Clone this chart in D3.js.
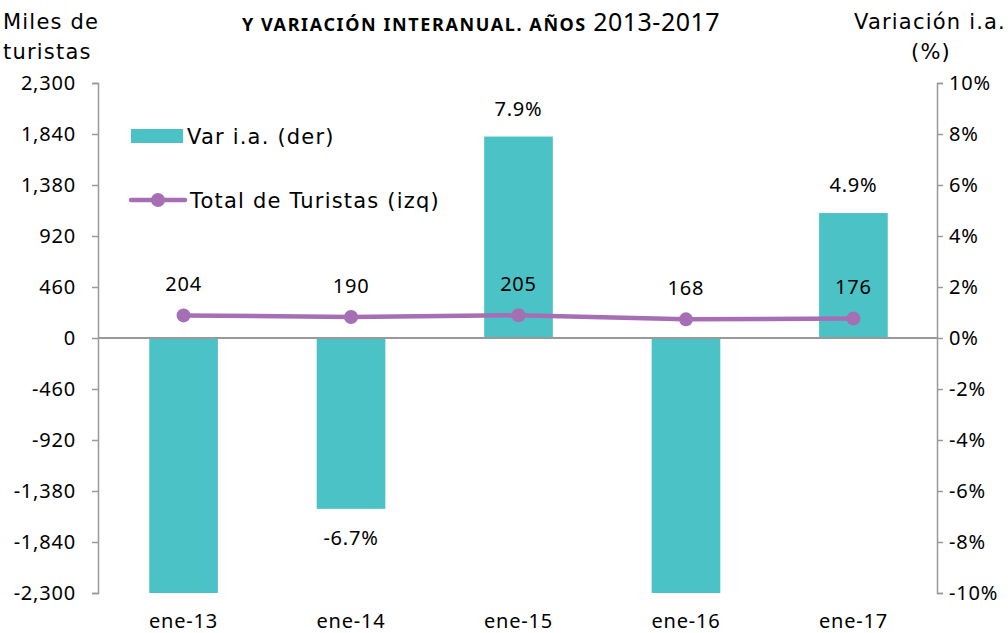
<!DOCTYPE html>
<head>
    <meta charset="utf-8">
    <style>
        body { margin: 0; padding: 0; background: #fff; }
        text { font-family: "Noto Sans", sans-serif; fill: #000; }
        .axis path, .axis line { stroke: #999; stroke-width: 1.5; }
        .axis text { font-size: 20px; letter-spacing: 0.8px; }
        .round { font-family: "DejaVu Sans", sans-serif; font-size: 21px; letter-spacing: 1.2px; }
    </style>
    <script src="https://d3js.org/d3.v7.min.js"></script>
</head>
<body>
    <svg width="1008" height="633"></svg>
    <script>
        // data
        var categories = ["ene-13", "ene-14", "ene-15", "ene-16", "ene-17"];
        var variacion = [-12.0, -6.7, 7.9, -11.0, 4.9];      // % (der)
        var turistas = [204, 190, 205, 168, 176];            // miles (izq)
        var leftTicks = [2300, 1840, 1380, 920, 460, 0, -460, -920, -1380, -1840, -2300];
        var rightTicks = [10, 8, 6, 4, 2, 0, -2, -4, -6, -8, -10];

        var svg = d3.select("svg");
        var mLeft = 98, mRight = 937, mTop = 83, mBottom = 593;

        var x = d3.scaleBand().domain(categories).range([mLeft + 1, mRight + 1]).paddingInner(0.59).paddingOuter(0.3);
        var yL = d3.scaleLinear().domain([-2300, 2300]).range([mBottom, mTop]);
        var yR = d3.scaleLinear().domain([-10, 10]).range([mBottom, mTop]).clamp(true);
        var cx = function (i) { return x(categories[i]) + x.bandwidth() / 2; };

        // bars
        svg.append("g").selectAll("rect")
            .data(variacion)
            .enter().append("rect")
                .attr("x", function (d, i) { return x(categories[i]); })
                .attr("width", x.bandwidth())
                .attr("y", function (d) { return Math.min(yR(d), yR(0)); })
                .attr("height", function (d) { return Math.abs(yR(d) - yR(0)); })
                .attr("fill", "#4BC3C6");

        // zero line
        svg.append("line")
            .attr("x1", mLeft).attr("x2", mRight)
            .attr("y1", yL(0)).attr("y2", yL(0))
            .attr("stroke", "#999").attr("stroke-width", 2);

        // axes
        var fmt = d3.formatLocale({ decimal: ".", thousands: ",", grouping: [3], currency: ["", ""], minus: "-" }).format(",");
        var gl = svg.append("g").attr("class", "axis")
            .attr("transform", "translate(" + mLeft + ",0)")
            .call(d3.axisLeft(yL).tickValues(leftTicks).tickFormat(fmt).tickSize(6).tickSizeOuter(6).tickPadding(16));
        gl.select(".domain").attr("fill", "none");
        var gr = svg.append("g").attr("class", "axis")
            .attr("transform", "translate(" + mRight + ",0)")
            .call(d3.axisRight(yR).tickValues(rightTicks).tickFormat(function (d) { return d + "%"; }).tickSize(6).tickSizeOuter(6).tickPadding(6));
        gr.select(".domain").attr("fill", "none");
        svg.selectAll(".axis text").attr("font-size", null).attr("font-family", null);

        // category labels
        svg.append("g").selectAll("text")
            .data(categories)
            .enter().append("text")
                .attr("x", function (d, i) { return cx(i); })
                .attr("y", 628)
                .attr("text-anchor", "middle")
                .attr("font-size", 20)
                .attr("letter-spacing", 0.8)
                .text(function (d) { return d; });

        // bar labels (only for bars within the axis range)
        svg.append("g").selectAll("text")
            .data(variacion)
            .enter().append("text")
                .attr("display", function (d) { return d >= -10 && d <= 10 ? null : "none"; })
                .attr("x", function (d, i) { return cx(i); })
                .attr("y", function (d) { return d >= 0 ? yR(d) - 21 : yR(d) + 36; })
                .attr("text-anchor", "middle")
                .attr("font-size", 20)
                .attr("letter-spacing", 0.8)
                .text(function (d) { return d.toFixed(1) + "%"; });

        // line
        var line = d3.line()
            .x(function (d, i) { return cx(i); })
            .y(function (d) { return yL(d); });
        svg.append("path")
            .datum(turistas)
            .attr("d", line)
            .attr("fill", "none")
            .attr("stroke", "#A66FB5")
            .attr("stroke-width", 4.5);
        svg.append("g").selectAll("circle")
            .data(turistas)
            .enter().append("circle")
                .attr("cx", function (d, i) { return cx(i); })
                .attr("cy", function (d) { return yL(d); })
                .attr("r", 7)
                .attr("fill", "#A66FB5");
        svg.append("g").selectAll("text")
            .data(turistas)
            .enter().append("text")
                .attr("x", function (d, i) { return cx(i); })
                .attr("y", function (d) { return yL(d) - 24; })
                .attr("text-anchor", "middle")
                .attr("font-size", 20)
                .attr("letter-spacing", 0.8)
                .text(function (d) { return d; });

        // legend
        svg.append("rect").attr("x", 131).attr("y", 129).attr("width", 52).attr("height", 14).attr("fill", "#4BC3C6");
        svg.append("text").attr("class", "round").attr("x", 187).attr("y", 144).text("Var i.a. (der)");
        svg.append("line").attr("x1", 131).attr("x2", 185).attr("y1", 200).attr("y2", 200)
            .attr("stroke", "#A66FB5").attr("stroke-width", 4.5).attr("stroke-linecap", "round");
        svg.append("circle").attr("cx", 158).attr("cy", 200).attr("r", 7).attr("fill", "#A66FB5");
        svg.append("text").attr("class", "round").attr("x", 190).attr("y", 208).text("Total de Turistas (izq)");

        // titles
        var t = svg.append("text").attr("x", 481).attr("y", 31).attr("text-anchor", "middle");
        t.append("tspan").attr("font-size", 18).attr("font-weight", "bold").attr("letter-spacing", 1.6).text("Y VARIACIÓN INTERANUAL. AÑOS ");
        t.append("tspan").attr("font-size", 25).attr("letter-spacing", 0.5).text("2013-2017");

        svg.append("text").attr("class", "round").attr("x", 3).attr("y", 29).text("Miles de");
        svg.append("text").attr("class", "round").attr("x", 3).attr("y", 59).text("turistas");
        svg.append("text").attr("class", "round").attr("x", 1006).attr("y", 29).attr("text-anchor", "end").text("Variación i.a.");
        svg.append("text").attr("class", "round").attr("x", 931).attr("y", 59).attr("text-anchor", "middle").text("(%)");
    </script>
</body>
</html>
